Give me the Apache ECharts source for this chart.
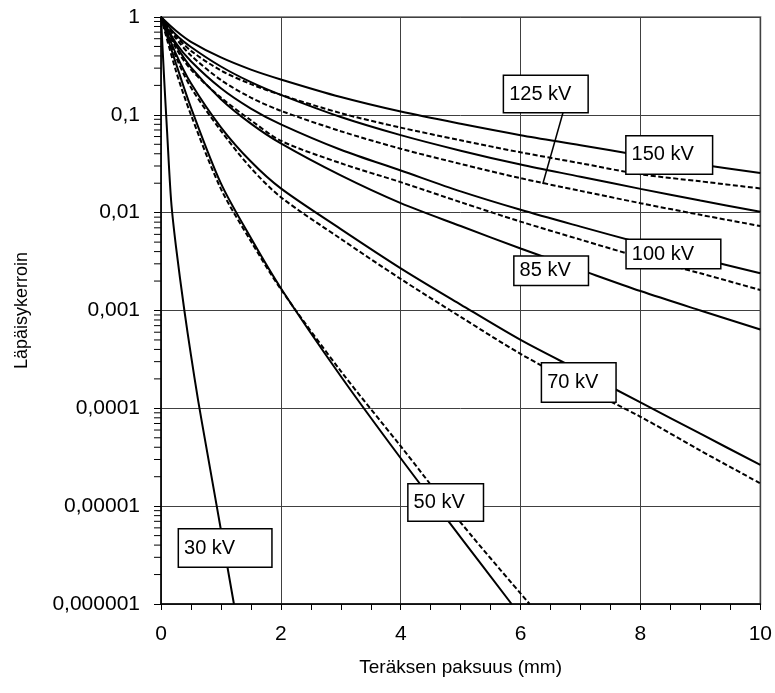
<!DOCTYPE html>
<html>
<head>
<meta charset="utf-8">
<script src="https://cdn.jsdelivr.net/npm/echarts@6/dist/echarts.min.js"></script>
<style>
html,body{margin:0;padding:0;background:#fff;}
#chart{width:775px;height:693px;}
</style>
</head>
<body>
<div id="chart"></div>
<script>
// ---- data ----
const xTickValues = [0, 2, 4, 6, 8, 10];
const yTickLabels = ['0,000001', '0,00001', '0,0001', '0,001', '0,01', '0,1', '1'];
const xAxisTitle = 'Teräksen paksuus (mm)';
const yAxisTitle = 'Läpäisykerroin';

const kv150Solid = [[0,1],[0.25,0.724],[0.5,0.558],[1,0.386],[1.5,0.29],[2,0.23],[3,0.152],[4,0.108],[5,0.081],[6,0.062],[7,0.049],[8,0.0385],[9,0.031],[10,0.0255]];
const kv150Dashed = [[0,1],[0.25,0.637],[0.5,0.451],[1,0.284],[1.5,0.206],[2,0.16],[3,0.104],[4,0.074],[5,0.055],[6,0.0414],[7,0.032],[8,0.0247],[9,0.0209],[10,0.0177]];
const kv125Solid = [[0,1],[0.25,0.659],[0.5,0.494],[1,0.312],[1.5,0.216],[2,0.16],[3,0.095],[4,0.062],[5,0.043],[6,0.031],[7,0.0233],[8,0.0175],[9,0.0133],[10,0.0102]];
const kv125Dashed = [[0,1],[0.25,0.604],[0.5,0.404],[1,0.227],[1.5,0.15],[2,0.11],[3,0.068],[4,0.045],[5,0.0315],[6,0.0225],[7,0.0167],[8,0.0125],[9,0.0095],[10,0.0073]];
const kv100Solid = [[0,1],[0.25,0.543],[0.5,0.353],[1,0.187],[1.5,0.116],[2,0.08],[3,0.044],[4,0.027],[5,0.0165],[6,0.0107],[7,0.0072],[8,0.0049],[9,0.0034],[10,0.0024]];
const kv100Dashed = [[0,1],[0.25,0.48],[0.5,0.29],[1,0.15],[1.5,0.088],[2,0.0543],[3,0.032],[4,0.0205],[5,0.0128],[6,0.0081],[7,0.0053],[8,0.0035],[9,0.0024],[10,0.00162]];
const kv85Solid = [[0,1],[0.25,0.513],[0.5,0.305],[1,0.1445],[1.5,0.0813],[2,0.051],[3,0.024],[4,0.0125],[5,0.0073],[6,0.0043],[7,0.0026],[8,0.00158],[9,0.001],[10,0.00064]];
const kv70Solid = [[0,1],[0.25,0.42],[0.5,0.21],[1,0.0746],[1.5,0.0333],[2,0.0177],[3,0.0068],[4,0.0027],[5,0.00115],[6,0.0005],[7,0.00024],[8,0.000115],[9,0.000055],[10,0.0000264]];
const kv70Dashed = [[0,1],[0.25,0.39],[0.5,0.19],[1,0.0687],[1.5,0.0286],[2,0.0144],[3,0.0054],[4,0.0021],[5,0.00086],[6,0.00036],[7,0.000168],[8,0.000082],[9,0.000037],[10,0.0000171]];
const kv50Solid = [[0,1],[0.25,0.334],[0.5,0.1186],[1,0.0199],[1.5,0.0055],[2,0.00169],[3,0.000213],[4,0.0000309],[5,0.0000048],[5.85,0.000001]];
const kv50Dashed = [[0,1],[0.25,0.28],[0.5,0.1],[1,0.0175],[1.5,0.0051],[2,0.00165],[3,0.00024],[4,0.000041],[5,0.0000068],[6.15,0.000001]];
const kv30Solid = [[0,1],[0.05,0.25],[0.1,0.07],[0.17,0.013],[0.25,0.0045],[0.39,0.001],[0.5,0.00035],[0.62,0.00012],[0.75,0.000042],[0.93,0.00001],[1.217,0.000001]];

const labelTexts = ['125 kV', '150 kV', '100 kV', '85 kV', '70 kV', '50 kV', '30 kV'];
const labelAnchors = [[6.42,0.163],[8.48,0.0389],[8.55,0.00378],[6.51,0.00255],[6.97,0.000184],[4.75,0.0000109],[1.07,0.00000373]];
const leader125 = [[6.72,0.112],[6.37,0.0196]];

// ---- styling (kept separate from data) ----
const labelPadding = [[7,16,7,5],[7,18,8,5],[3,26,3,5],[3,17,3,5],[8,17,8,5],[7,18,7,5],[7,36,8,5]];
const FONT = '"Liberation Sans", Arial, sans-serif';

const solidStyle = {color:'#000', width:2};
const dashedStyle = {color:'#000', width:2, type:[5,2.5]};

function lineSeries(name, data, dashed){
  return {
    name, type:'line', data, symbol:'none', smooth:0.3,
    lineStyle: dashed ? dashedStyle : solidStyle, z:3, silent:true, clip:true
  };
}

// minor tick positions on the log axis (2..9 within each decade)
const minorTickVals = [];
for (let e = -6; e < 0; e++) for (let m = 2; m <= 9; m++) minorTickVals.push([0, m * Math.pow(10, e)]);

const chart = echarts.init(document.getElementById('chart'), null, {renderer:'canvas'});
const option = {
  animation:false,
  backgroundColor:'#fff',
  textStyle:{fontFamily:FONT},
  grid:{left:161, top:17, width:600, height:587, show:true, borderColor:'#8c8c8c', borderWidth:2, backgroundColor:'transparent'},
  xAxis:{
    type:'value', min:0, max:10, interval:2,
    name:xAxisTitle, nameLocation:'middle', nameGap:54,
    nameTextStyle:{fontSize:19, color:'#000', fontFamily:FONT},
    axisLine:{show:true, onZero:false, lineStyle:{color:'#000', width:1.5}},
    axisTick:{show:true, inside:false, length:6, lineStyle:{color:'#000'}},
    minorTick:{show:true, splitNumber:4, length:6, lineStyle:{color:'#000'}},
    axisLabel:{margin:20, fontSize:21, color:'#000', fontFamily:FONT,
      formatter:(v)=> xTickValues.includes(v) ? String(v) : ''},
    splitLine:{show:true, lineStyle:{color:'#404040', width:1}}
  },
  yAxis:{
    type:'log', logBase:10, min:0.000001, max:1, splitNumber:6,
    name:yAxisTitle, nameLocation:'middle', nameGap:130, nameRotate:90,
    nameTextStyle:{fontSize:18, color:'#000', fontFamily:FONT},
    axisLine:{show:true, lineStyle:{color:'#000', width:1.5}},
    axisTick:{show:true, inside:false, length:7, lineStyle:{color:'#000'}},
    minorTick:{show:false},
    axisLabel:{margin:21, fontSize:21, color:'#000', fontFamily:FONT,
      formatter:(v)=>{ const e = Math.round(Math.log10(v)); const i = e + 6; return (i>=0 && i<yTickLabels.length) ? yTickLabels[i] : ''; }},
    splitLine:{show:true, lineStyle:{color:'#404040', width:1}}
  },
  series:[
    lineSeries('150 kV', kv150Solid, false),
    lineSeries('150 kV b', kv150Dashed, true),
    lineSeries('125 kV', kv125Solid, false),
    lineSeries('125 kV b', kv125Dashed, true),
    lineSeries('100 kV', kv100Solid, false),
    lineSeries('100 kV b', kv100Dashed, true),
    lineSeries('85 kV', kv85Solid, false),
    lineSeries('70 kV', kv70Solid, false),
    lineSeries('70 kV b', kv70Dashed, true),
    lineSeries('50 kV', kv50Solid, false),
    lineSeries('50 kV b', kv50Dashed, true),
    lineSeries('30 kV', kv30Solid, false),
    {
      type:'line', data:leader125, symbol:'none', lineStyle:{color:'#000', width:1.5}, z:4, silent:true
    },
    {
      type:'custom', coordinateSystem:'cartesian2d', data:minorTickVals, clip:false, silent:true, z:5,
      renderItem:(params, api)=>{
        const p = api.coord([0, api.value(1)]);
        return {type:'line', shape:{x1:p[0]-7, y1:p[1], x2:p[0], y2:p[1]}, style:{stroke:'#000', lineWidth:1}};
      }
    },
    {
      type:'scatter', symbolSize:0, z:10, silent:true,
      itemStyle:{opacity:1},
      data: labelAnchors.map((v,i)=>({
        value:v,
        label:{
          show:true, position:'inside', formatter:labelTexts[i],
          fontSize:20, color:'#000', fontFamily:FONT,
          backgroundColor:'#fff', borderColor:'#000', borderWidth:1.5,
          padding:labelPadding[i], lineHeight:22
        }
      }))
    }
  ]
};
chart.setOption(option);
</script>
</body>
</html>
